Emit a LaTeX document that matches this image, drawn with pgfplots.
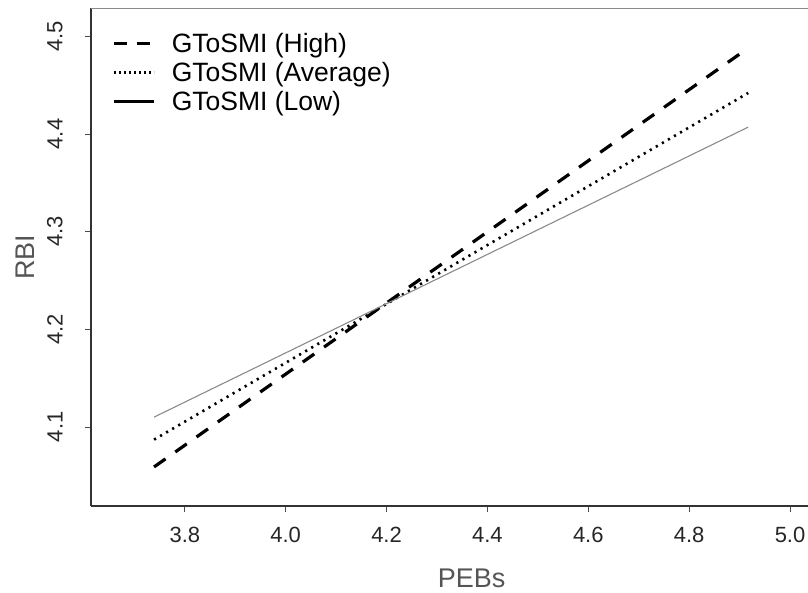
\documentclass[border=0pt]{standalone}
\usepackage{pgfplots}
\pgfplotsset{compat=1.18}
\usepackage{fontspec}
\setmainfont{Liberation Sans}
\definecolor{lblgray}{HTML}{555555}
\definecolor{lowgray}{HTML}{8A8A8A}
\begin{document}
\begin{tikzpicture}
\path[use as bounding box] (-91bp,-87bp) rectangle (717bp,506bp);
\begin{axis}[
  at={(0,0)}, anchor=south west,
  scale only axis, width=717bp, height=498bp,
  xmin=3.614, xmax=5.0356, ymin=4.019, ymax=4.529,
  axis x line*=bottom, axis y line*=left,
  axis line style={line width=1.2bp, black!80, -},
  xtick={3.8,4.0,4.2,4.4,4.6,4.8,5.0},
  ytick={4.1,4.2,4.3,4.4,4.5},
  xticklabels={3.8,4.0,4.2,4.4,4.6,4.8,5.0},
  yticklabels={4.1,4.2,4.3,4.4,4.5},
  tick align=outside, major tick length=6bp,
  tick style={line width=0.8bp, black!70},
  tick label style={font=\fontsize{22bp}{25bp}\selectfont, text=black!85},
  yticklabel style={rotate=90, anchor=south, outer ysep=19bp},
  xticklabel style={yshift=-12bp},
  xlabel={PEBs}, ylabel={RBI},
  label style={font=\fontsize{27bp}{30bp}\selectfont, text=lblgray},
  xlabel style={at={(axis description cs:0.531,0)}, anchor=center, yshift=-72bp},
  ylabel style={at={(axis description cs:-0.092,0.5)}, anchor=center},
  legend style={draw=none, fill=none, at={(axis description cs:0.0273,0.957)}, anchor=north west,
    font=\fontsize{26.5bp}{29bp}\selectfont, row sep=4bp, column sep=14bp, inner sep=2bp},
  legend cell align=left,
  legend image code/.code={\draw[#1] (0bp,0bp) -- (40bp,0bp);},
  clip=false,
]
\draw[lowgray, line width=1bp] (rel axis cs:0,1) -- (rel axis cs:1,1);
\addlegendimage{black, line width=3bp, dash pattern=on 13bp off 10bp}
\addlegendentry{GToSMI (High)}
\addlegendimage{black, line width=2.5bp, dash pattern=on 2bp off 3bp}
\addlegendentry{GToSMI (Average)}
\addlegendimage{black, line width=3bp}
\addlegendentry{GToSMI (Low)}
\addplot[forget plot, black, line width=3.2bp, dash pattern=on 14bp off 12bp] coordinates {(3.739,4.059) (4.917,4.488)};
\addplot[forget plot, black, line width=2.6bp, dash pattern=on 2.2bp off 4.8bp] coordinates {(3.739,4.087) (4.917,4.442)};
\addplot[forget plot, lowgray, line width=1.1bp] coordinates {(3.739,4.110) (4.917,4.407)};
\end{axis}
\end{tikzpicture}
\end{document}
